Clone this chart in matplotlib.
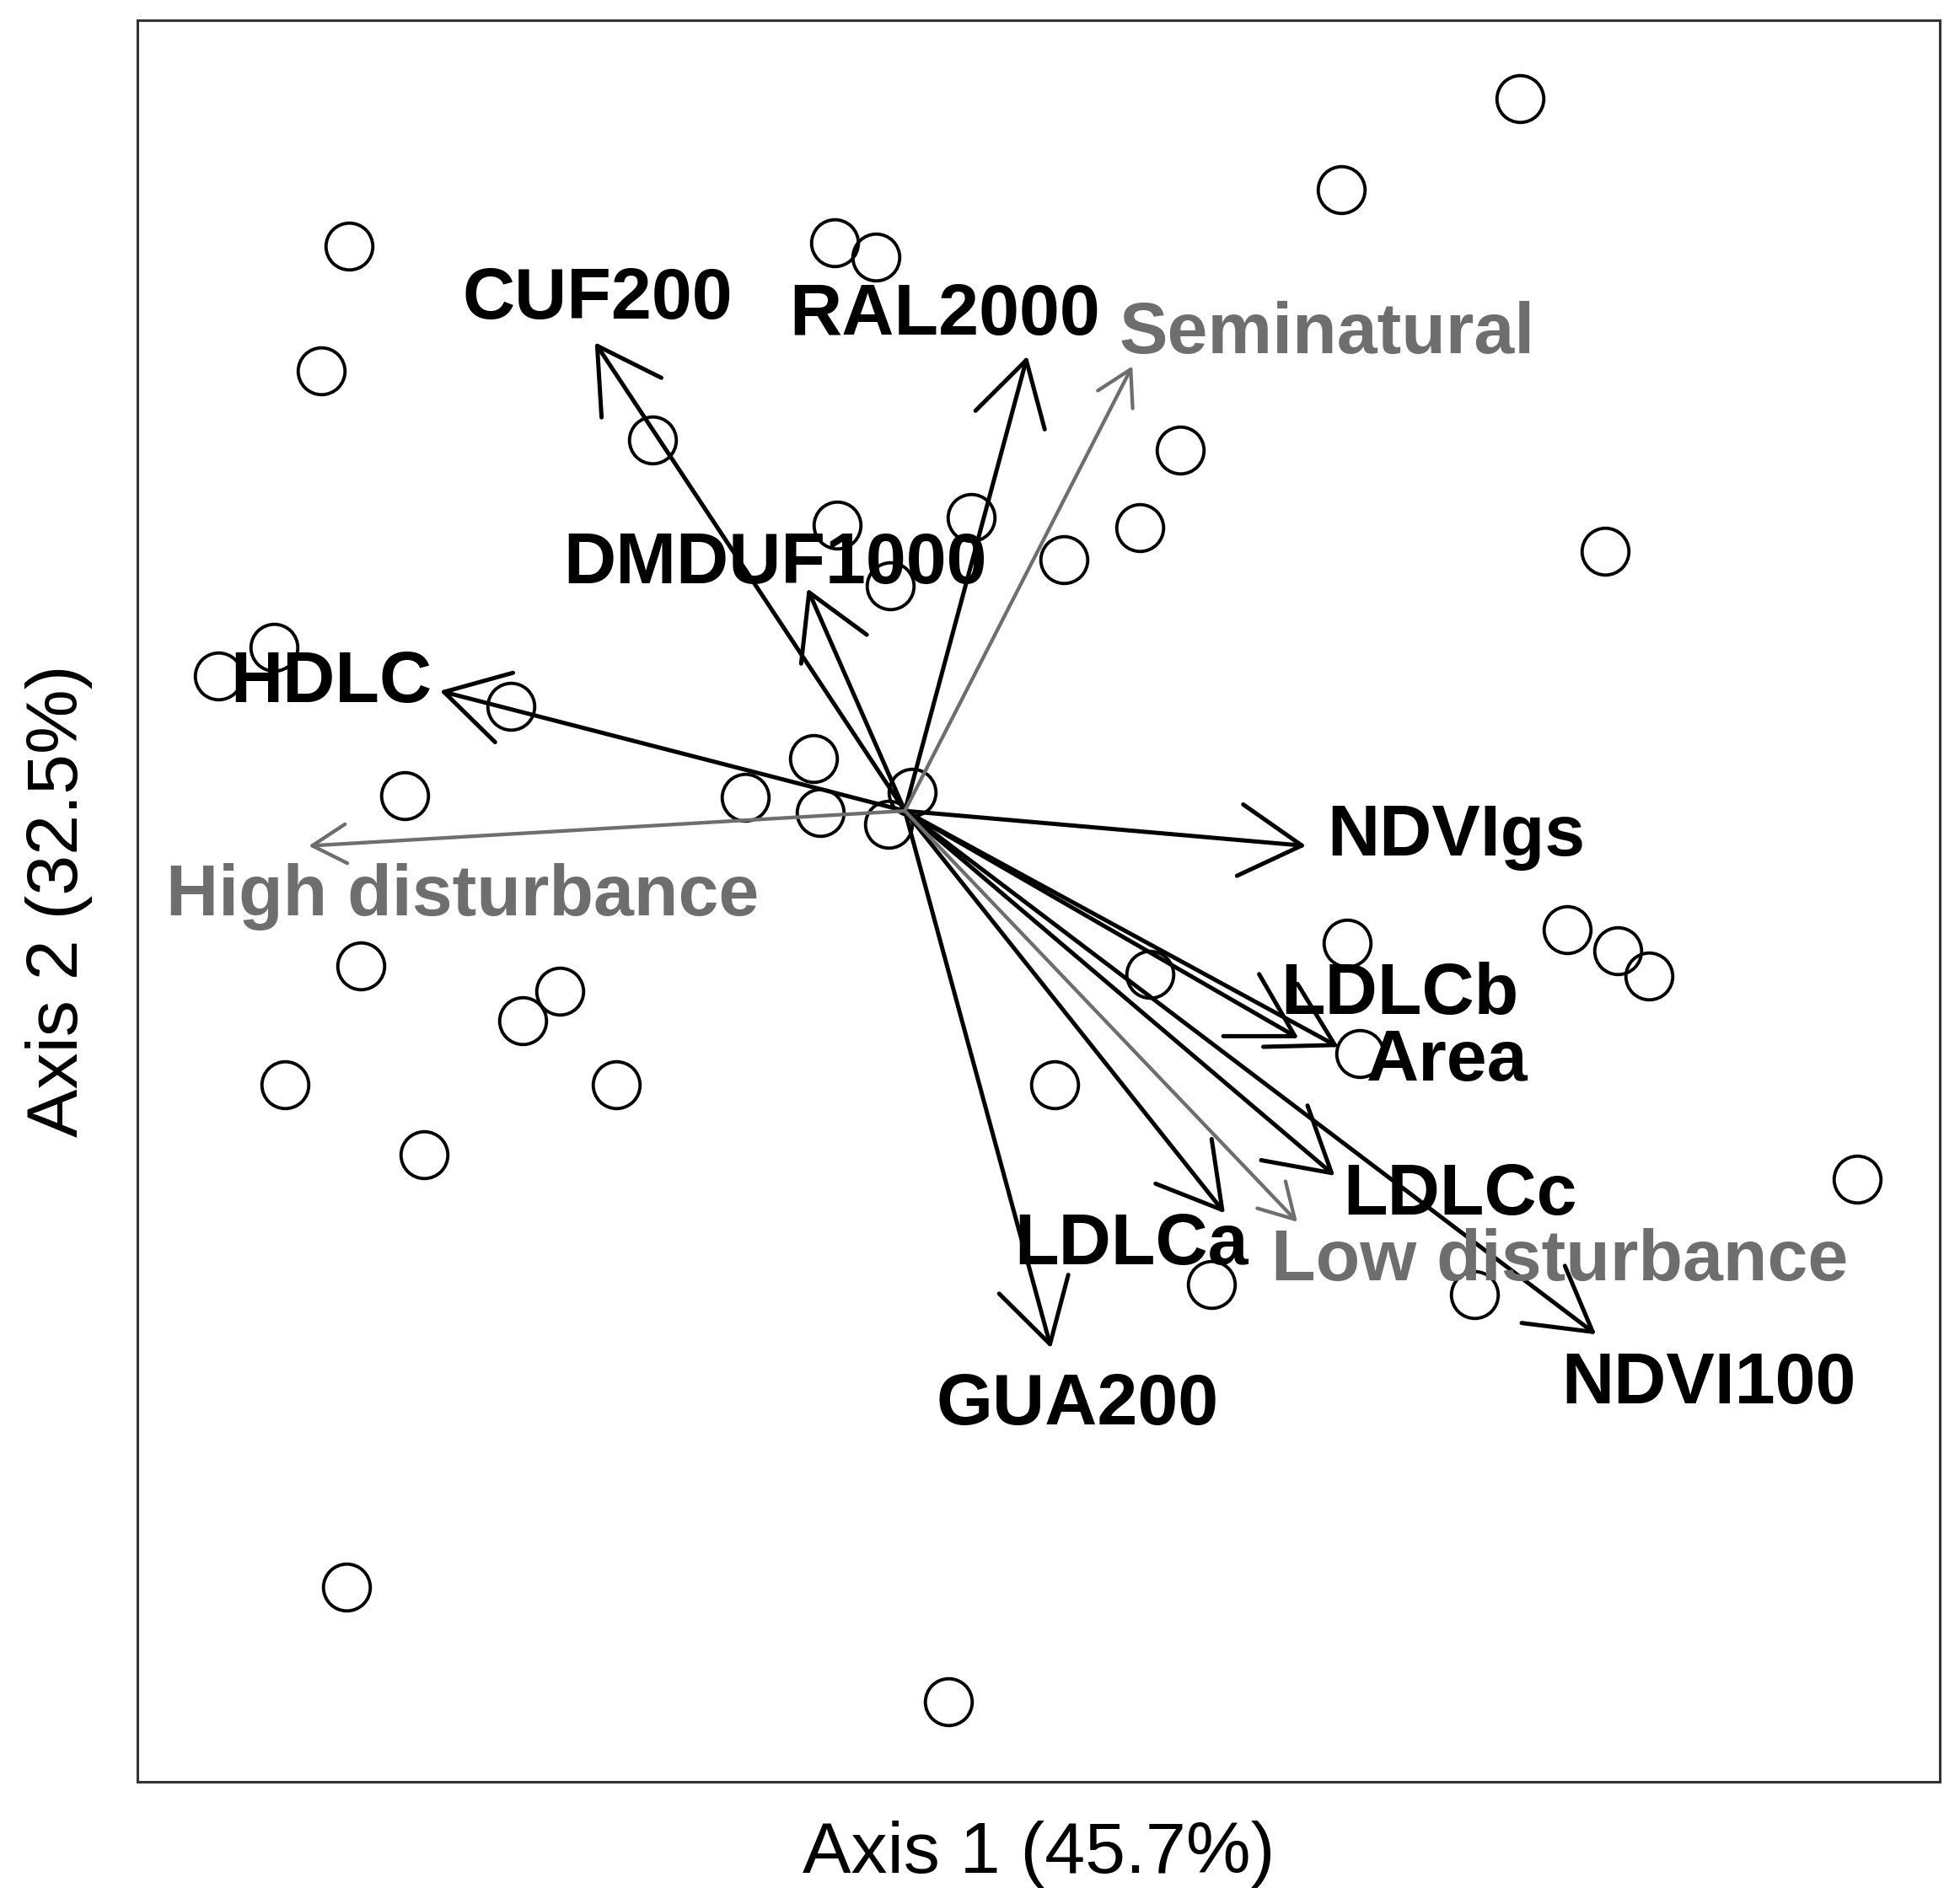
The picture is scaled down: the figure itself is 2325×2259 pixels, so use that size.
# biplot of sites (circles) and environmental vectors (arrows)

import numpy as np
import matplotlib
matplotlib.use('Agg')
import matplotlib.pyplot as plt
from matplotlib.patches import FancyArrowPatch

plt.rcParams['font.family'] = ['Liberation Sans', 'DejaVu Sans']

# site scores
site_x = [-4.45, -4.67, -0.56, -0.23, 4.92, 3.49, -2.02, 2.20, 1.88, 0.53,
          -0.54, 1.27, -0.12, 5.60, -5.05, -5.49, -3.15, -0.73, -1.28, -0.68,
          0.06, -0.13, -4.00, -4.35, -2.76, -3.06, -4.96, -2.31, -3.85, 3.54,
          1.96, 5.30, 5.70, 5.95, 3.64, 1.20, 7.62, 2.45, 4.56, -4.47, 0.35]
site_y = [4.52, 3.52, 4.55, 4.43, 5.70, 4.97, 2.97, 2.89, 2.27, 2.35,
          2.29, 2.01, 1.80, 2.08, 1.31, 1.08, 0.84, 0.42, 0.11, -0.01,
          0.15, -0.11, 0.12, -1.24, -1.44, -1.68, -2.19, -2.19, -2.75, -1.06,
          -1.31, -0.95, -1.12, -1.32, -1.94, -2.19, -2.95, -3.79, -3.87, -6.21, -7.13]

# environmental vectors
var_names = ['CUF200', 'RAL2000', 'DMDUF1000', 'HDLC', 'NDVIgs', 'LDLCb',
             'Area', 'LDLCc', 'LDLCa', 'NDVI100', 'GUA200']
var_x = [-2.48, 0.98, -0.78, -3.72, 3.21, 3.15, 3.47, 3.44, 2.56, 5.53, 1.17]
var_y = [3.75, 3.64, 1.78, 0.96, -0.28, -1.82, -1.89, -2.92, -3.22, -4.19, -4.30]
var_lab_x = [-2.46, 0.32, -1.04, -4.59, 4.41, 3.96, 4.34, 4.44, 1.81, 6.43, 1.38]
var_lab_y = [4.09, 3.96, 1.97, 1.02, -0.21, -1.48, -2.01, -3.08, -3.48, -4.59, -4.76]

# factor (disturbance) vectors, drawn in grey
fac_names = ['Seminatural', 'High disturbance', 'Low disturbance']
fac_x = [1.82, -4.77, 3.14]
fac_y = [3.56, -0.28, -3.29]
fac_lab_x = [3.38, -3.54, 5.24]
fac_lab_y = [3.81, -0.69, -3.61]

grey = '#6e6e6e'
head_big = '->,head_length=5.3,head_width=3.06'
head_small = '->,head_length=2.9,head_width=1.67'

fig = plt.figure(figsize=(23.25, 22.59), dpi=100)
ax = fig.add_axes([0.0701, 0.0642, 0.9196, 0.9250])

ax.plot(site_x, site_y, 'o', ms=40, mfc='none', mec='black', mew=2.8, zorder=2)

for x, y in zip(var_x, var_y):
    ax.add_patch(FancyArrowPatch((0, 0), (x, y), arrowstyle=head_big, mutation_scale=10,
                                 lw=3.6, color='black', shrinkA=0, shrinkB=0,
                                 capstyle='round', joinstyle='round', zorder=3))
for x, y in zip(fac_x, fac_y):
    ax.add_patch(FancyArrowPatch((0, 0), (x, y), arrowstyle=head_small, mutation_scale=10,
                                 lw=3.1, color=grey, shrinkA=0, shrinkB=0,
                                 capstyle='round', joinstyle='round', zorder=3))

for name, x, y in zip(var_names, var_lab_x, var_lab_y):
    ax.text(x, y, name, fontsize=62, fontweight='bold', color='black',
            ha='center', va='center', zorder=4)
for name, x, y in zip(fac_names, fac_lab_x, fac_lab_y):
    ax.text(x, y, name, fontsize=62, fontweight='bold', color=grey,
            ha='center', va='center', zorder=4)

ax.set_xlim(-6.14, 8.28)
ax.set_ylim(-7.77, 6.325)
ax.set_xticks([])
ax.set_yticks([])
for s in ax.spines.values():
    s.set_linewidth(2.2)
    s.set_color('#333333')

ax.set_xlabel('Axis 1 (45.7%)', fontsize=62, labelpad=33)
ax.set_ylabel('Axis 2 (32.5%)', fontsize=62, labelpad=38)

fig.savefig('out.png', dpi=100)
